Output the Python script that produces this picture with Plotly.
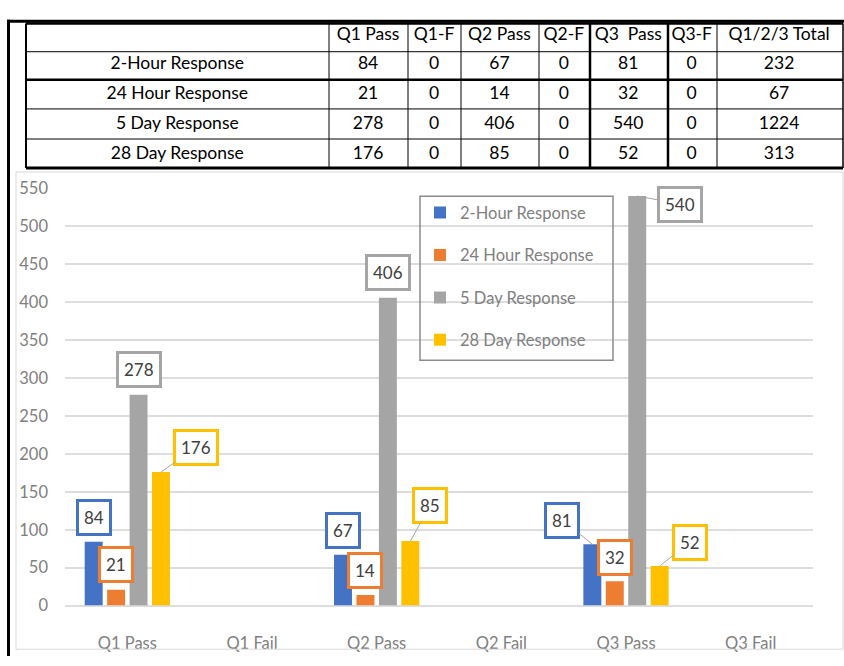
import plotly.graph_objects as go

# ---- data -------------------------------------------------------------
series_names = ["2-Hour Response", "24 Hour Response", "5 Day Response", "28 Day Response"]
categories = ["Q1 Pass", "Q1 Fail", "Q2 Pass", "Q2 Fail", "Q3 Pass", "Q3 Fail"]

q1_pass = [84, 21, 278, 176]
q1_fail = [0, 0, 0, 0]
q2_pass = [67, 14, 406, 85]
q2_fail = [0, 0, 0, 0]
q3_pass = [81, 32, 540, 52]
q3_fail = [0, 0, 0, 0]

table_headers = ["", "Q1 Pass", "Q1-F", "Q2 Pass", "Q2-F", "Q3  Pass", "Q3-F", "Q1/2/3 Total"]

# ---- styling ------------------------------------------------------------
colors = ["#4472C4", "#ED7D31", "#A5A5A5", "#FFC000"]
FONT = "Lato, Roboto, sans-serif"
W, H = 844, 666

# table grid (pixel positions of column / row rules and their weights)
col_edges = [26, 329, 408, 461, 539, 590, 668, 717, 843]
col_rule_w = [2, 1, 1, 1, 1, 2.5, 2.5, 1, 1.5]
row_edges = [14, 43, 72, 102, 133, 163]
row_rule_w = [2.5, 1, 2.5, 1, 1, 3]

# label offsets (px) from each bar top: (dx, dy, leader line shown)
label_offsets = {
    (0, 0): (0, -24, False), (0, 1): (0, -25, False), (0, 2): (0, -25, False), (0, 3): (35, -25, True),
    (2, 0): (0, -24, False), (2, 1): (0, -24, False), (2, 2): (0, -25, False), (2, 3): (20, -36, True),
    (4, 0): (-30, -24, True), (4, 1): (0, -24, False), (4, 2): (43, 8, True), (4, 3): (30, -24, True),
}


def px_x(x):
    return x / W


def px_y(y):
    return 1 - y / H


def nowrap(s):
    # keep each table entry on a single line
    return s.replace(" ", "\u00a0")


columns = [q1_pass, q1_fail, q2_pass, q2_fail, q3_pass, q3_fail]
totals = [sum(col[i] for col in columns) for i in range(len(series_names))]

fig = go.Figure()

# summary table (text only; the rules are drawn as shapes below)
col_widths = [b - a for a, b in zip(col_edges[:-1], col_edges[1:])]
cell_values = ([[nowrap(s) for s in series_names]]
               + [[str(v) for v in col] for col in columns]
               + [[str(t) for t in totals]])
clear = "rgba(0,0,0,0)"
fig.add_trace(go.Table(
    domain=dict(x=[px_x(col_edges[0]), px_x(col_edges[-1])], y=[px_y(159), px_y(9)]),
    columnwidth=col_widths,
    header=dict(values=[nowrap(h) for h in table_headers], height=29, align="center",
                line=dict(color=clear, width=0), fill_color=clear,
                font=dict(family=FONT, size=17.5, color="black")),
    cells=dict(values=cell_values, height=30, align="center",
               line=dict(color=clear, width=0), fill_color=clear,
               font=dict(family=FONT, size=17.5, color="black")),
))

# grouped bars
for k, name in enumerate(series_names):
    vals = [col[k] for col in columns]
    fig.add_trace(go.Bar(
        x=categories, y=vals, name=name, legendgroup=name,
        marker=dict(color=colors[k], line=dict(width=0)),
        xaxis="x", yaxis="y",
    ))

# value callouts
n_series = len(series_names)
slot = (1 - 0.28) / n_series
annotations = []
for ci, col in enumerate(columns):
    for k, v in enumerate(col):
        if v == 0:
            continue
        dx, dy, leader = label_offsets[(ci, k)]
        xpos = ci + (k - (n_series - 1) / 2) * slot
        annotations.append(dict(
            x=xpos, y=v, xref="x", yref="y", text=str(v),
            showarrow=True, ax=dx, ay=dy, arrowhead=0, arrowwidth=1,
            arrowcolor="#A6A6A6" if leader else clear,
            standoff=0, startstandoff=0,
            bgcolor="white", bordercolor=colors[k], borderwidth=3, borderpad=5,
            font=dict(family=FONT, size=17, color="#404040"),
        ))

shapes = [
    # outer frame
    dict(type="line", xref="paper", yref="paper", x0=px_x(7), x1=1, y0=px_y(11.5), y1=px_y(11.5),
         line=dict(color="black", width=3)),
    dict(type="line", xref="paper", yref="paper", x0=px_x(8.5), x1=px_x(8.5), y0=px_y(10), y1=0,
         line=dict(color="black", width=3)),
    # chart area border
    dict(type="rect", xref="paper", yref="paper", x0=px_x(16), x1=px_x(843), y0=px_y(659), y1=px_y(167),
         line=dict(color="#D9D9D9", width=1)),
    # legend frame
    dict(type="rect", xref="paper", yref="paper", x0=px_x(420), x1=px_x(613), y0=px_y(361), y1=px_y(192),
         line=dict(color="#8C8C8C", width=1.5)),
]
for yv, lw in zip(row_edges, row_rule_w):
    shapes.append(dict(type="line", xref="paper", yref="paper",
                       x0=px_x(col_edges[0]), x1=px_x(col_edges[-1]), y0=px_y(yv), y1=px_y(yv),
                       line=dict(color="black", width=lw)))
for xv, lw in zip(col_edges, col_rule_w):
    shapes.append(dict(type="line", xref="paper", yref="paper",
                       x0=px_x(xv), x1=px_x(xv), y0=px_y(row_edges[0]), y1=px_y(row_edges[-1]),
                       line=dict(color="black", width=lw)))

fig.update_layout(
    width=W, height=H,
    margin=dict(l=0, r=0, t=0, b=0),
    paper_bgcolor="white", plot_bgcolor="white",
    barmode="group", bargap=0.28, bargroupgap=0.2,
    font=dict(family=FONT, color="#808080"),
    xaxis=dict(domain=[px_x(65), px_x(813)], type="category", showgrid=False,
               showline=False, zeroline=False, ticks="", ticklabelstandoff=26,
               tickfont=dict(family=FONT, size=16.5, color="#808080")),
    yaxis=dict(domain=[px_y(614), px_y(184)], range=[0, 550], dtick=50,
               showgrid=True, gridcolor="#DDDDDD", gridwidth=1.5,
               zeroline=True, zerolinecolor="#DDDDDD", zerolinewidth=1.5,
               showline=False, ticks="", ticklabelstandoff=16,
               tickfont=dict(family=FONT, size=16.5, color="#808080")),
    legend=dict(x=px_x(420), y=px_y(191), xanchor="left", yanchor="top",
                bgcolor=clear, borderwidth=0,
                tracegroupgap=18, font=dict(family=FONT, size=16.5, color="#808080")),
    annotations=annotations,
    shapes=shapes,
)

fig.write_html("out.html")
